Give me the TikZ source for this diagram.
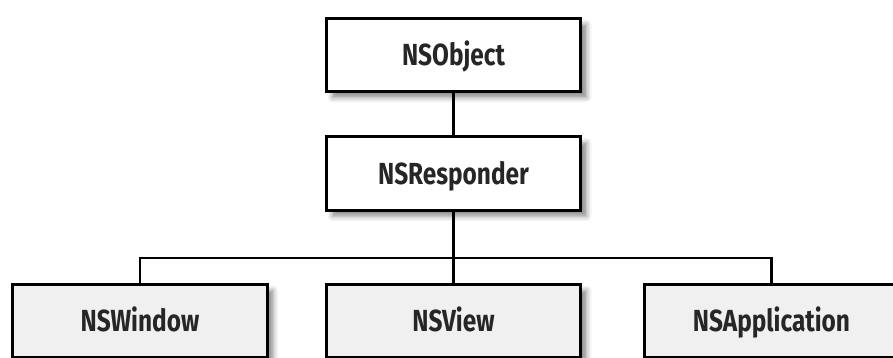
\documentclass[tikz,border=0pt]{standalone}
\usepackage{fontspec}
\setmainfont{Fira Sans}[FakeStretch=0.8]
\usetikzlibrary{shadows.blur}
\tikzset{
  cls/.style={draw, line width=2.8pt, fill=white, minimum width=254.5pt, minimum height=73.5pt,
    font=\bfseries\fontsize{30.5}{33}\selectfont, text=black!85, text height=21pt, text depth=0pt,
    blur shadow={shadow xshift=6pt, shadow yshift=-6pt, shadow blur radius=5pt, shadow opacity=45}},
  sub/.style={cls, fill=black!6},
  link/.style={line width=2.2pt}
}
\begin{document}
\begin{tikzpicture}[x=1pt,y=-1pt]
    \useasboundingbox (0,0) rectangle (893,358);
    \clip (0,0) rectangle (893,358);
    \node[cls] (obj) at (453.5,55) {NSObject};
    \node[cls] (resp) at (453.5,173.5) {NSResponder};
    \node[sub] (win) at (140,321) {NSWindow};
    \node[sub] (view) at (453.5,321) {NSView};
    \node[sub] (app) at (771.5,321) {NSApplication};
    \coordinate (bar) at (453.5,258);
    \draw[link] (obj) -- (resp);
    \draw[link] (resp) -- (bar);
    \draw[link] (win.north) |- (bar) -| (app.north);
    \draw[link] (bar) -- (view);
\end{tikzpicture}
\end{document}
